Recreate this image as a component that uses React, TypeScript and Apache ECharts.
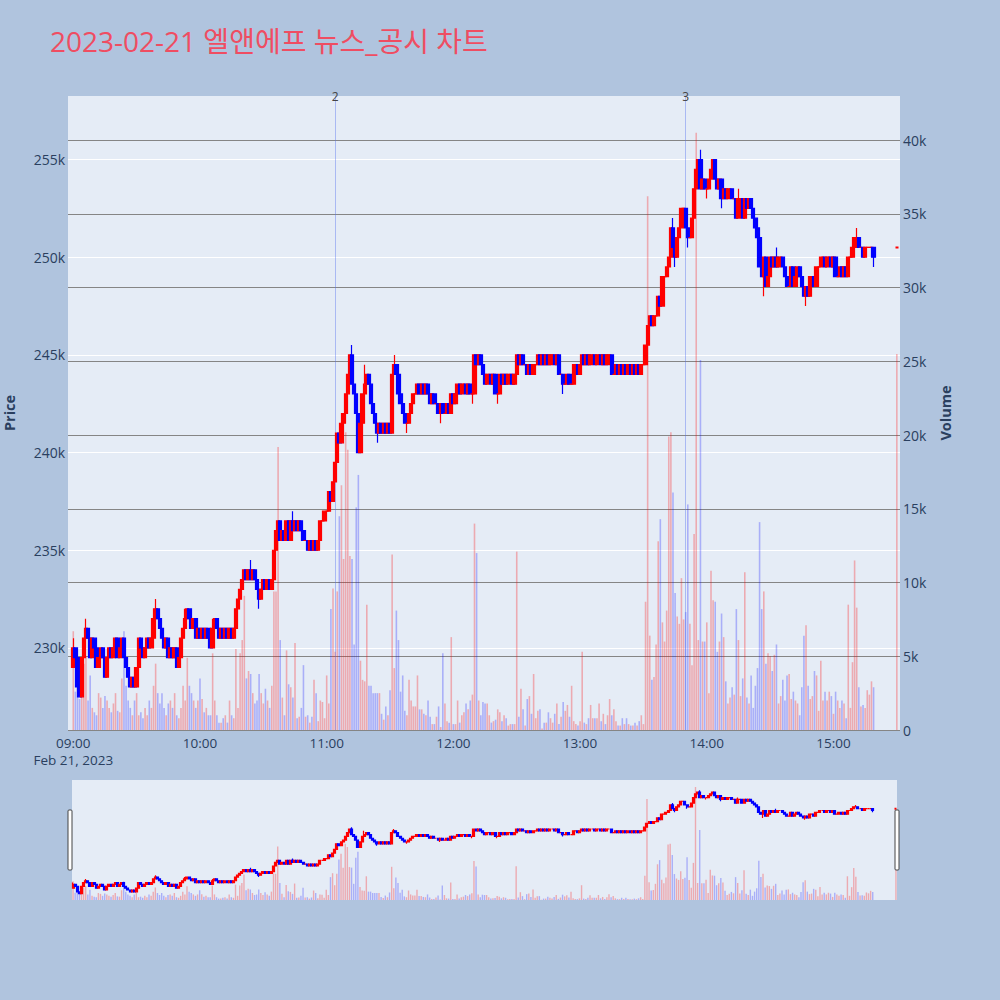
import { useEffect, useRef } from 'react';
import * as echarts from 'echarts';

const TITLE = '2023-02-21 엘앤에프 뉴스_공시 차트';
const FONT = '"Open Sans", "Noto Sans CJK KR", verdana, arial, sans-serif';

// 1-minute closes from 09:00 (thousand won); each open is the previous close
const firstOpen = 229.0;
const closes = [
  230.0, 229.5, 228.0, 227.5, 229.5, 230.5, 231.0, 230.5, 229.5, 230.5,
  230.0, 229.0, 229.5, 230.0, 229.5, 228.5, 229.5, 230.0, 229.5, 230.0,
  230.5, 229.5, 230.0, 230.5, 229.5, 229.0, 228.5, 228.0, 228.5, 228.0,
  229.0, 230.5, 230.0, 229.5, 230.0, 230.5, 230.0, 230.5, 231.5, 232.0,
  231.5, 231.0, 230.5, 230.0, 230.5, 229.5, 230.0, 229.5, 230.0, 229.0,
  229.5, 230.5, 231.0, 231.5, 232.0, 231.5, 231.0, 231.5, 230.5, 231.0,
  230.5, 231.0, 230.5, 231.0, 230.5, 230.0, 231.0, 231.5, 231.0, 230.5,
  231.0, 230.5, 231.0, 230.5, 231.0, 230.5, 231.0, 232.0, 232.5, 233.0,
  233.5, 234.0, 233.5, 234.0, 233.5, 234.0, 233.5, 233.0, 232.5, 233.0,
  233.5, 233.0, 233.5, 233.0, 233.5, 235.0, 236.0, 236.5, 235.5, 236.0,
  235.5, 236.5, 235.5, 236.5, 236.0, 236.5, 236.0, 236.5, 236.0, 235.5,
  235.5, 235.0, 235.5, 235.0, 235.5, 235.0, 235.5, 236.5, 236.5, 237.0,
  237.0, 238.0, 237.5, 238.5, 239.5, 241.0, 240.5, 241.5, 242.0, 243.0,
  244.0, 245.0, 243.5, 243.0, 242.0, 240.0, 241.5, 243.0, 243.5, 244.0,
  243.5, 242.5, 242.0, 241.5, 241.0, 241.5, 241.0, 241.5, 241.0, 241.5,
  241.0, 244.0, 244.5, 244.0, 243.0, 242.5, 242.0, 241.5, 241.5, 242.0,
  242.5, 243.0, 243.0, 243.5, 243.0, 243.5, 243.0, 243.5, 243.0, 242.5,
  243.0, 242.5, 242.5, 242.0, 242.5, 242.0, 242.0, 242.5, 242.0, 243.0,
  242.5, 243.0, 243.5, 243.0, 243.5, 243.5, 243.0, 243.5, 243.0, 243.0,
  245.0, 244.5, 245.0, 244.5, 244.0, 243.5, 244.0, 244.0, 243.5, 244.0,
  243.0, 243.0, 244.0, 243.5, 244.0, 243.5, 244.0, 244.0, 243.5, 244.0,
  245.0, 244.5, 245.0, 244.5, 244.5, 244.0, 244.5, 244.0, 244.5, 244.5,
  245.0, 244.5, 245.0, 244.5, 245.0, 244.5, 245.0, 245.0, 244.5, 245.0,
  244.0, 244.0, 243.5, 243.5, 244.0, 243.5, 243.5, 244.5, 244.5, 244.0,
  244.5, 245.0, 244.5, 245.0, 244.5, 245.0, 245.0, 244.5, 245.0, 245.0,
  244.5, 245.0, 244.5, 245.0, 245.0, 244.0, 244.0, 244.5, 244.0, 244.5,
  244.0, 244.5, 244.0, 244.5, 244.0, 244.5, 244.0, 244.5, 244.0, 244.5,
  244.5, 245.5, 246.5, 247.0, 246.5, 247.0, 247.0, 248.0, 247.5, 249.0,
  249.0, 249.5, 250.0, 251.5, 250.5, 250.0, 251.0, 251.5, 252.5, 252.5,
  251.5, 251.0, 251.0, 252.0, 253.5, 254.5, 255.0, 253.5, 254.0, 253.5,
  253.5, 254.0, 254.5, 255.0, 254.0, 253.5, 254.0, 253.0, 253.5, 253.0,
  253.5, 253.5, 253.0, 253.0, 252.0, 253.0, 253.0, 252.0, 253.0, 252.5,
  253.0, 252.5, 252.0, 251.5, 251.0, 249.5, 249.0, 250.0, 248.5, 249.0,
  250.0, 249.5, 250.0, 249.5, 250.0, 250.0, 249.5, 249.0, 248.5, 248.5,
  249.5, 248.5, 249.0, 249.5, 249.0, 248.5, 248.0, 248.5, 248.0, 249.0,
  249.0, 248.5, 249.5, 249.5, 250.0, 250.0, 249.5, 250.0, 250.0, 249.5,
  250.0, 249.0, 249.0, 249.5, 249.0, 249.5, 249.0, 250.0, 250.0, 250.5,
  251.0, 251.0, 250.5, 250.5, 250.0, 250.5, 250.5, 250.5, 250.5, 250.0,
];

// 1-minute volume from 09:00 (thousand shares)
const volumes = [
  6.7, 2.6, 4.6, 2.1, 3.5, 4.5, 5.0, 2.0, 3.7, 1.5,
  1.2, 1.0, 2.5, 2.2, 1.5, 2.3, 2.0, 1.5, 1.2, 1.8,
  2.5, 1.3, 1.2, 3.5, 6.7, 3.0, 2.0, 1.5, 1.0, 2.0,
  2.5, 1.0, 1.2, 0.8, 1.5, 1.0, 2.0, 1.5, 3.0, 4.5,
  2.5, 1.8, 2.5, 1.5, 1.0, 1.8, 2.0, 1.5, 2.5, 1.0,
  0.8, 1.5, 3.0, 2.0, 4.9, 3.0, 2.5, 2.0, 1.5, 2.0,
  3.5, 2.1, 1.2, 1.5, 1.0, 1.0, 5.2, 2.0, 1.0, 0.5,
  0.5, 0.8, 1.0, 0.5, 2.0, 1.0, 0.8, 5.5, 1.5, 5.2,
  6.1, 9.1, 3.5, 4.0, 3.8, 2.5, 1.8, 2.0, 3.8, 2.5,
  1.8, 2.8, 2.0, 1.5, 3.0, 9.4, 9.4, 19.2, 6.1, 2.2,
  1.0, 5.4, 3.1, 2.9, 2.2, 5.9, 0.8, 0.9, 1.5, 4.4,
  0.9, 1.0, 0.5, 0.9, 3.4, 2.5, 0.6, 2.0, 1.9, 0.8,
  3.7, 1.8, 8.2, 9.6, 5.3, 9.4, 14.5, 16.6, 11.6, 20.2,
  19.0, 11.8, 11.6, 5.8, 15.1, 17.3, 4.7, 3.4, 3.3, 8.5,
  3.0, 3.0, 2.5, 2.5, 2.5, 2.5, 1.1, 0.7, 1.6, 1.0,
  2.7, 11.9, 4.2, 8.1, 6.1, 2.6, 3.7, 1.3, 1.0, 3.4,
  2.0, 1.6, 1.6, 3.7, 1.4, 1.4, 1.1, 1.0, 2.0, 0.9,
  0.4, 0.4, 0.9, 1.6, 0.2, 5.2, 1.8, 0.6, 0.5, 6.3,
  0.4, 0.4, 2.0, 0.5, 1.0, 1.2, 1.8, 1.4, 2.0, 2.4,
  14.0, 12.0, 2.0, 1.0, 1.9, 1.8, 1.8, 1.0, 0.5, 0.6,
  0.7, 1.4, 1.2, 0.6, 1.0, 0.8, 0.3, 0.4, 0.4, 0.4,
  12.1, 0.9, 2.8, 1.4, 0.3, 2.1, 2.3, 1.1, 3.8, 0.8,
  1.3, 1.4, 0.1, 0.5, 0.5, 1.2, 0.8, 0.5, 1.1, 1.8,
  0.4, 0.9, 1.9, 1.3, 1.7, 0.9, 3.0, 0.6, 0.4, 0.3,
  0.6, 5.3, 0.5, 0.4, 0.8, 1.7, 0.8, 0.8, 0.8, 1.8,
  0.6, 1.1, 0.4, 1.0, 2.1, 1.0, 1.4, 0.6, 0.3, 0.3,
  0.8, 0.4, 0.8, 0.4, 0.3, 0.3, 0.5, 0.3, 0.6, 1.0,
  0.4, 8.7, 36.2, 6.4, 3.4, 3.6, 5.8, 12.8, 14.3, 7.3,
  6.0, 8.1, 19.9, 20.2, 16.1, 9.3, 7.7, 7.2, 10.3, 7.5,
  8.0, 15.3, 7.2, 4.4, 13.3, 40.5, 6.1, 25.1, 6.0, 6.0,
  7.3, 2.5, 10.8, 8.8, 8.7, 5.3, 6.0, 7.9, 6.3, 3.3,
  1.8, 2.2, 2.9, 2.4, 8.2, 6.1, 2.3, 3.5, 10.7, 2.2,
  1.8, 3.7, 1.5, 3.0, 4.2, 14.1, 8.2, 9.4, 4.5, 5.2,
  5.0, 4.0, 5.1, 5.8, 1.8, 2.3, 3.4, 2.0, 3.7, 3.8,
  2.1, 2.6, 2.0, 1.8, 1.0, 2.9, 6.4, 7.1, 3.0, 2.1,
  2.3, 4.0, 3.7, 1.3, 4.7, 2.0, 2.6, 2.0, 2.6, 2.3,
  1.1, 2.6, 2.0, 1.5, 2.0, 1.8, 0.8, 8.5, 1.5, 4.6,
  11.5, 8.3, 2.9, 1.6, 1.7, 1.5, 2.7, 2.4, 3.3, 2.9,
];

// wicks beyond the body: [minute from 09:00, price]
const wickHighs: [number, number][] = [
  [0, 230.5], [6, 231.5], [39, 232.5], [53, 232.0], [66, 231.5], [84, 234.5],
  [104, 237.0], [132, 245.5], [138, 244.5], [152, 245.0], [284, 252.0],
  [297, 255.5], [315, 253.5], [333, 250.5], [371, 251.5],
];
const wickLows: [number, number][] = [
  [88, 232.0], [144, 240.5], [158, 241.0], [174, 241.5], [189, 242.5], [201, 242.5],
  [232, 243.0], [285, 249.5], [291, 250.5], [300, 253.0], [307, 252.5],
  [327, 248.0], [347, 247.5], [349, 248.0], [379, 249.5],
];

const closingAuction = { time: '15:30', price: 250.5, volume: 25.5 };
const newsMarks = [
  { time: '11:04', label: '2' },
  { time: '13:50', label: '3' },
];

const priceTicks = [230, 235, 240, 245, 250, 255];
const volumeTicks = [0, 5, 10, 15, 20, 25, 30, 35, 40];
const hourLabels = ['09:00', '10:00', '11:00', '12:00', '13:00', '14:00', '15:00'];

const PRICE_MIN = 225.8;
const PRICE_MAX = 258.25;
const VOLUME_MAX = 43;

const SLOT_START = 8 * 60 + 58; // axis starts two minutes before the open
const SLOT_COUNT = 394;
const OPEN_SLOT = 2;

const UP = '#ff0000';
const DOWN = '#0000ff';
const UP_VOL = 'rgba(255,0,0,0.28)';
const DOWN_VOL = 'rgba(0,0,255,0.26)';

const pad = (n: number) => String(n).padStart(2, '0');
const slots = Array.from({ length: SLOT_COUNT }, (_, i) => {
  const t = SLOT_START + i;
  return `${pad(Math.floor(t / 60))}:${pad(t % 60)}`;
});

const highMap = new Map(wickHighs);
const lowMap = new Map(wickLows);

function buildSeriesData() {
  const candles: any[] = [];
  const vols: any[] = [];
  slots.forEach((time, i) => {
    const m = i - OPEN_SLOT;
    if (m >= 0 && m < closes.length) {
      const open = m === 0 ? firstOpen : closes[m - 1];
      const close = closes[m];
      const high = Math.max(open, close, highMap.get(m) ?? -Infinity);
      const low = Math.min(open, close, lowMap.get(m) ?? Infinity);
      candles.push([open, close, low, high]);
      vols.push({ value: volumes[m], itemStyle: { color: close >= open ? UP_VOL : DOWN_VOL } });
    } else if (time === closingAuction.time) {
      const p = closingAuction.price;
      candles.push({
        value: [p, p, p, p],
        itemStyle: { color: UP, color0: UP, borderColor: UP, borderColor0: UP, borderColorDoji: UP, borderWidth: 2 },
      });
      vols.push({ value: closingAuction.volume, itemStyle: { color: UP_VOL } });
    } else {
      candles.push(['-', '-', '-', '-']);
      vols.push('-');
    }
  });
  return { candles, vols };
}

export default function App() {
  const chartRef = useRef<HTMLDivElement>(null);

  useEffect(() => {
    if (!chartRef.current) return;
    const chart = echarts.init(chartRef.current, null, { renderer: 'svg' });

    const { candles, vols } = buildSeriesData();
    const sliderEnd = OPEN_SLOT + 391;
    const sliderSlots = slots.slice(OPEN_SLOT, sliderEnd);
    const sliderCandles = candles.slice(OPEN_SLOT, sliderEnd);
    const sliderVols = vols.slice(OPEN_SLOT, sliderEnd);

    const tickColor = '#2a3f5f';
    const candleStyle = {
      color: UP,
      color0: DOWN,
      borderColor: UP,
      borderColor0: DOWN,
      borderColorDoji: UP,
      borderWidth: 1.2,
    };

    const option = {
      animation: false,
      backgroundColor: '#b0c4de',
      textStyle: { fontFamily: FONT },
      title: {
        text: TITLE,
        left: 45,
        top: 22,
        textStyle: { color: '#ef4d62', fontSize: 28, fontWeight: 'normal', fontFamily: FONT },
      },
      grid: [
        { left: 68, top: 96, width: 832, height: 634, show: true, backgroundColor: '#e5ecf6', borderWidth: 0, outerBoundsMode: 'none' },
        { left: 72, top: 780, width: 825, height: 120, show: true, backgroundColor: '#e5ecf6', borderWidth: 0, outerBoundsMode: 'none' },
      ],
      xAxis: [
        {
          type: 'category',
          gridIndex: 0,
          data: slots,
          boundaryGap: true,
          axisLine: { show: false },
          axisTick: { show: false },
          splitLine: { show: false },
          axisLabel: {
            interval: (_: number, value: string) => hourLabels.includes(value),
            formatter: (value: string) => (value === '09:00' ? '09:00\nFeb 21, 2023' : value),
            color: tickColor,
            fontSize: 13.5,
            lineHeight: 17,
            margin: 4,
            fontFamily: FONT,
          },
        },
        {
          type: 'category',
          gridIndex: 1,
          data: sliderSlots,
          boundaryGap: true,
          show: false,
        },
      ],
      yAxis: [
        {
          type: 'value',
          gridIndex: 0,
          position: 'left',
          min: PRICE_MIN,
          max: PRICE_MAX,
          axisLine: { show: false },
          axisTick: { show: false, customValues: priceTicks },
          axisLabel: {
            customValues: priceTicks,
            formatter: (v: number) => `${v}k`,
            color: tickColor,
            fontSize: 14,
            margin: 3,
            fontFamily: FONT,
          },
          splitLine: { show: true, lineStyle: { color: '#ffffff', width: 1 } },
          name: 'Price',
          nameLocation: 'middle',
          nameGap: 51,
          nameTextStyle: { color: tickColor, fontSize: 14.5, fontWeight: 'bold', fontFamily: FONT },
        },
        {
          type: 'value',
          gridIndex: 0,
          position: 'right',
          min: 0,
          max: VOLUME_MAX,
          axisLine: { show: false },
          axisTick: { show: false, customValues: volumeTicks },
          axisLabel: {
            customValues: volumeTicks,
            formatter: (v: number) => (v === 0 ? '0' : `${v}k`),
            color: tickColor,
            fontSize: 14,
            margin: 3,
            fontFamily: FONT,
          },
          splitLine: { show: true, lineStyle: { color: '#858585', width: 1 } },
          name: 'Volume',
          nameLocation: 'middle',
          nameGap: 38,
          nameTextStyle: { color: tickColor, fontSize: 14.5, fontWeight: 'bold', fontFamily: FONT },
        },
        { type: 'value', gridIndex: 1, min: PRICE_MIN, max: PRICE_MAX, show: false, splitLine: { show: false } },
        { type: 'value', gridIndex: 1, min: 0, max: VOLUME_MAX, show: false, splitLine: { show: false } },
      ],
      series: [
        {
          name: 'Volume',
          type: 'bar',
          xAxisIndex: 0,
          yAxisIndex: 1,
          data: vols,
          barWidth: 1.6,
          z: 2,
          markLine: {
            silent: true,
            symbol: ['none', 'none'],
            animation: false,
            lineStyle: { color: 'rgba(80,110,240,0.4)', width: 1, type: 'solid' },
            label: { show: true, position: 'end', formatter: '{b}', color: '#444', fontSize: 12, distance: -6 },
            data: newsMarks.map((n) => ({ xAxis: n.time, name: n.label })),
          },
        },
        {
          name: 'Price',
          type: 'candlestick',
          xAxisIndex: 0,
          yAxisIndex: 0,
          data: candles,
          barWidth: 3.8,
          itemStyle: candleStyle,
          z: 6,
        },
        {
          name: 'VolumeRange',
          type: 'bar',
          xAxisIndex: 1,
          yAxisIndex: 3,
          data: sliderVols,
          barWidth: 1.4,
          silent: true,
        },
        {
          name: 'PriceRange',
          type: 'candlestick',
          xAxisIndex: 1,
          yAxisIndex: 2,
          data: sliderCandles,
          barWidth: 2.5,
          itemStyle: candleStyle,
          silent: true,
          z: 6,
        },
      ],
      graphic: [
        { type: 'rect', shape: { x: 68, y: 810, width: 4, height: 60, r: 1 }, style: { fill: '#ffffff', stroke: '#444', lineWidth: 1 }, z: 20 },
        { type: 'rect', shape: { x: 895, y: 810, width: 4, height: 60, r: 1 }, style: { fill: '#ffffff', stroke: '#444', lineWidth: 1 }, z: 20 },
      ],
    };

    chart.setOption(option as any);

    return () => {
      chart.dispose();
    };
  }, []);

  return (
    <div
      ref={chartRef}
      style={{ position: 'fixed', left: 0, top: 0, width: 1000, height: 1000 }}
    />
  );
}
